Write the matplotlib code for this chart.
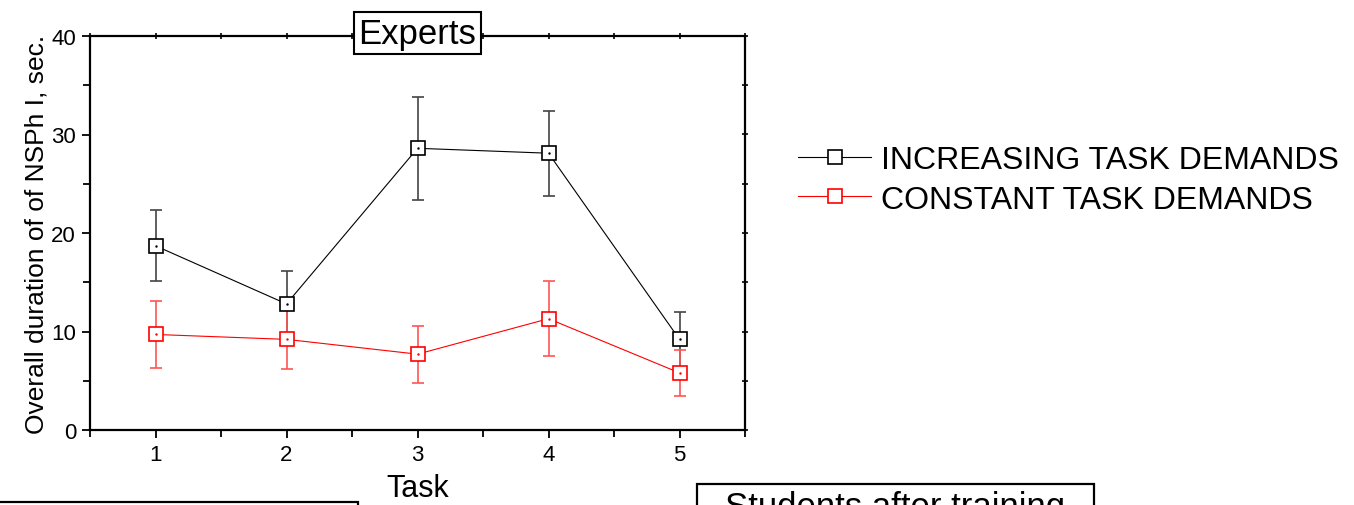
import numpy as np
import matplotlib
matplotlib.use('Agg')
import matplotlib.pyplot as plt
from matplotlib.patches import Rectangle
from matplotlib.lines import Line2D
from matplotlib.ticker import MultipleLocator

plt.rcParams['font.family'] = ['Liberation Sans', 'DejaVu Sans']

tasks = [1, 2, 3, 4, 5]
increasing = [18.7, 12.8, 28.6, 28.1, 9.2]
increasing_err = [3.6, 3.3, 5.2, 4.3, 2.8]
constant = [9.7, 9.2, 7.7, 11.3, 5.8]
constant_err = [3.4, 3.0, 2.9, 3.8, 2.3]
series_names = ['INCREASING TASK DEMANDS', 'CONSTANT TASK DEMANDS']

fig = plt.figure(figsize=(13.54, 5.06), dpi=100)
ax = fig.add_axes([90 / 1354, 75 / 506, 655 / 1354, 394 / 506])

ax.errorbar(tasks, increasing, yerr=increasing_err, color='black', lw=0.8,
            marker='s', ms=10, mfc='white', mec='black', mew=1.2,
            ecolor='#444444', elinewidth=1.2, capsize=4, capthick=1.2, zorder=3)
ax.errorbar(tasks, constant, yerr=constant_err, color='red', lw=0.8,
            marker='s', ms=10, mfc='white', mec='red', mew=1.2,
            ecolor='#ff5555', elinewidth=1.2, capsize=4, capthick=1.2, zorder=3)
# little centre dots inside the markers
ax.plot(tasks, increasing, ls='none', marker='.', ms=1.5, color='black', zorder=4)
ax.plot(tasks, constant, ls='none', marker='.', ms=1.5, color='red', zorder=4)

ax.set_xlim(0.5, 5.5)
ax.set_ylim(0, 40)
ax.xaxis.set_major_locator(MultipleLocator(1))
ax.xaxis.set_minor_locator(MultipleLocator(0.5))
ax.yaxis.set_major_locator(MultipleLocator(10))
ax.yaxis.set_minor_locator(MultipleLocator(5))

for s in ax.spines.values():
    s.set_linewidth(1.6)

ax.tick_params(axis='both', which='major', direction='out', length=6, width=1.3,
               labelsize=16, pad=4)
ax.tick_params(axis='both', which='minor', direction='out', length=5, width=1.3)

# small ticks on the top and right frame
top = ax.secondary_xaxis('top')
top.xaxis.set_major_locator(MultipleLocator(0.5))
top.tick_params(direction='inout', length=4, width=1.2, labeltop=False)
right = ax.secondary_yaxis('right')
right.yaxis.set_major_locator(MultipleLocator(5))
right.tick_params(direction='inout', length=4, width=1.2, labelright=False)
top.spines['top'].set_visible(False)
right.spines['right'].set_visible(False)

ax.set_xlabel('Task', fontsize=22, labelpad=6)
ax.set_ylabel('Overall duration of of NSPh I, sec.', fontsize=19, labelpad=2)

ax.text(3, 40.3, 'Experts', fontsize=25, ha='center', va='center',
        bbox=dict(boxstyle='square,pad=0.14', fc='white', ec='black', lw=1.5),
        zorder=10, clip_on=False)

handles = [Line2D([], [], color='black', lw=0.8, marker='s', ms=10, mfc='white', mec='black', mew=1.2),
           Line2D([], [], color='red', lw=0.8, marker='s', ms=10, mfc='white', mec='red', mew=1.2)]
ax.legend(handles, series_names, loc='upper left', bbox_to_anchor=(798 / 1354, 1 - 146 / 506),
          bbox_transform=fig.transFigure, frameon=False, fontsize=23,
          handlelength=2.3, handletextpad=0.3, labelspacing=0.3,
          borderpad=0, borderaxespad=0)

# neighbouring panels, cut off at the bottom edge
fig.patches.append(Rectangle((697 / 1354, -0.2), 397 / 1354, 0.2 + 21 / 506,
                             transform=fig.transFigure, fill=False, ec='black', lw=1.6))
fig.text(895 / 1354, 1 - 491 / 506, 'Students after training', fontsize=25,
         ha='center', va='top')
fig.patches.append(Rectangle((-0.05, -0.2), 0.05 + 358 / 1354, 0.2 + 3 / 506,
                             transform=fig.transFigure, fill=False, ec='black', lw=1.6))

fig.savefig('out.png', dpi=100)
